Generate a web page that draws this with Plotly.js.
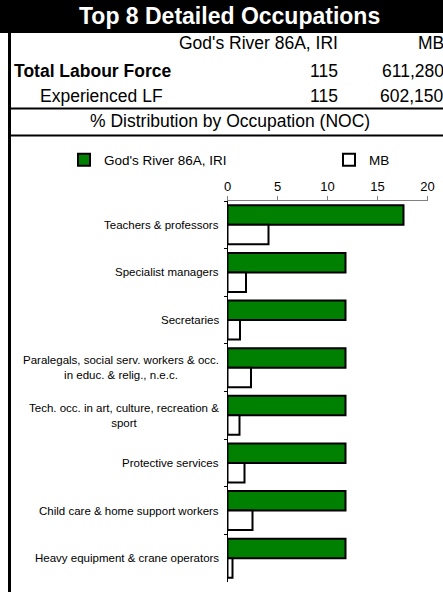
<!DOCTYPE html>
<html>
<head>
<meta charset="utf-8">
<script src="https://cdn.plot.ly/plotly-3.0.1.min.js"></script>
<style>html,body{margin:0;padding:0;background:#fff;}#chart{width:443px;height:592px;}</style>
</head>
<body>
<div id="chart"></div>
<script>
// ---- data ----
var categories = [
  "Teachers & professors",
  "Specialist managers",
  "Secretaries",
  "Paralegals, social serv. workers & occ. in educ. & relig., n.e.c.",
  "Tech. occ. in art, culture, recreation & sport",
  "Protective services",
  "Child care & home support workers",
  "Heavy equipment & crane operators"
];
var categoryLabels = [
  "Teachers & professors",
  "Specialist managers",
  "Secretaries",
  "Paralegals, social serv. workers & occ.<br>in educ. & relig., n.e.c.",
  "Tech. occ. in art, culture, recreation &<br>sport",
  "Protective services",
  "Child care & home support workers",
  "Heavy equipment & crane operators"
];
var seriesNames = ["God's River 86A, IRI", "MB"];
var godsRiver = [17.6, 11.8, 11.8, 11.8, 11.8, 11.8, 11.8, 11.8];
var mb = [4.1, 1.85, 1.25, 2.35, 1.2, 1.7, 2.5, 0.5];
var xTicks = [0, 5, 10, 15, 20];
var headerTitle = "Top 8 Detailed Occupations";
var rowLabels = ["Total Labour Force", "Experienced LF"];
var rowGR = ["115", "115"];
var rowMB = ["611,280", "602,150"];
var sectionTitle = "% Distribution by Occupation (NOC)";

// ---- layout helpers ----
var W = 443, H = 592;
function px(x) { return x / W; }
function py(y) { return 1 - y / H; }
var FONT = "Liberation Sans, Arial, sans-serif";

var traces = [
  {type: 'bar', orientation: 'h', name: seriesNames[0], y: categories, x: godsRiver, legend: 'legend',
   marker: {color: '#008000', line: {color: '#000', width: 2}}, hoverinfo: 'x+y'},
  {type: 'bar', orientation: 'h', name: seriesNames[1], y: categories, x: mb, legend: 'legend2',
   marker: {color: '#ffffff', line: {color: '#000', width: 2}}, hoverinfo: 'x+y'}
];

var annotations = [
  {text: '<b>' + headerTitle + '</b>', xref: 'paper', yref: 'paper', x: px(229), y: py(16),
   xanchor: 'center', yanchor: 'middle', showarrow: false, font: {family: FONT, size: 23, color: '#fff'}},
  {text: seriesNames[0], xref: 'paper', yref: 'paper', x: px(340), y: py(43),
   xanchor: 'right', yanchor: 'middle', showarrow: false, font: {family: FONT, size: 17.5, color: '#000'}},
  {text: seriesNames[1], xref: 'paper', yref: 'paper', x: px(446), y: py(43),
   xanchor: 'right', yanchor: 'middle', showarrow: false, font: {family: FONT, size: 17.5, color: '#000'}},
  {text: '<b>' + rowLabels[0] + '</b>', xref: 'paper', yref: 'paper', x: px(12), y: py(71),
   xanchor: 'left', yanchor: 'middle', showarrow: false, font: {family: FONT, size: 17.5, color: '#000'}},
  {text: rowLabels[1], xref: 'paper', yref: 'paper', x: px(38), y: py(96),
   xanchor: 'left', yanchor: 'middle', showarrow: false, font: {family: FONT, size: 17.5, color: '#000'}},
  {text: rowGR[0], xref: 'paper', yref: 'paper', x: px(340), y: py(71),
   xanchor: 'right', yanchor: 'middle', showarrow: false, font: {family: FONT, size: 17.5, color: '#000'}},
  {text: rowGR[1], xref: 'paper', yref: 'paper', x: px(340), y: py(96),
   xanchor: 'right', yanchor: 'middle', showarrow: false, font: {family: FONT, size: 17.5, color: '#000'}},
  {text: rowMB[0], xref: 'paper', yref: 'paper', x: px(446), y: py(71),
   xanchor: 'right', yanchor: 'middle', showarrow: false, font: {family: FONT, size: 17.5, color: '#000'}},
  {text: rowMB[1], xref: 'paper', yref: 'paper', x: px(446), y: py(96),
   xanchor: 'right', yanchor: 'middle', showarrow: false, font: {family: FONT, size: 17.5, color: '#000'}},
  {text: sectionTitle, xref: 'paper', yref: 'paper', x: px(230), y: py(121),
   xanchor: 'center', yanchor: 'middle', showarrow: false, font: {family: FONT, size: 17.5, color: '#000'}}
];
categories.forEach(function (c, i) {
  annotations.push({text: categoryLabels[i], xref: 'paper', yref: 'y', x: px(221), y: c,
    xanchor: 'right', yanchor: 'middle', align: 'center', showarrow: false,
    font: {family: FONT, size: 11.5, color: '#000'}});
});

var shapes = [
  {type: 'rect', xref: 'paper', yref: 'paper', x0: 0, x1: 1, y0: py(33), y1: 1,
   fillcolor: '#000', line: {width: 0}, layer: 'below'},
  {type: 'line', xref: 'paper', yref: 'paper', x0: px(9.5), x1: px(9.5), y0: py(33), y1: 0,
   line: {color: '#000', width: 3}},
  {type: 'line', xref: 'paper', yref: 'paper', x0: px(9), x1: 1, y0: py(108.5), y1: py(108.5),
   line: {color: '#000', width: 2}},
  {type: 'line', xref: 'paper', yref: 'paper', x0: px(9), x1: 1, y0: py(135.5), y1: py(135.5),
   line: {color: '#000', width: 2}}
];

var legendBase = {orientation: 'h', yanchor: 'middle', xanchor: 'left',
  font: {family: FONT, size: 13.5, color: '#000'}, bgcolor: 'rgba(0,0,0,0)', itemwidth: 30};

var layout = {
  width: W, height: H,
  margin: {l: 0, r: 0, t: 0, b: 0, pad: 0},
  paper_bgcolor: '#fff', plot_bgcolor: '#fff',
  font: {family: FONT, color: '#000'},
  barmode: 'group', bargap: 0.18, bargroupgap: 0,
  showlegend: true,
  legend: Object.assign({}, legendBase, {x: px(64), y: py(160)}),
  legend2: Object.assign({}, legendBase, {x: px(329), y: py(160)}),
  xaxis: {domain: [px(227.5), px(427.5)], side: 'top', range: [0, 20], tickvals: xTicks,
    ticks: 'outside', ticklen: 4, tickcolor: '#808080', showline: true, linecolor: '#808080', linewidth: 1,
    showgrid: false, zeroline: false, tickfont: {family: FONT, size: 13, color: '#000'}, fixedrange: true},
  yaxis: {domain: [py(582), py(201)], type: 'category', autorange: 'reversed',
    showticklabels: false, ticks: 'outside', ticklen: 3, tickcolor: '#000', tickson: 'boundaries',
    showline: true, linecolor: '#000', linewidth: 1, showgrid: false, zeroline: false, fixedrange: true},
  annotations: annotations,
  shapes: shapes
};

Plotly.newPlot('chart', traces, layout, {displayModeBar: false, staticPlot: true});
</script>
</body>
</html>
